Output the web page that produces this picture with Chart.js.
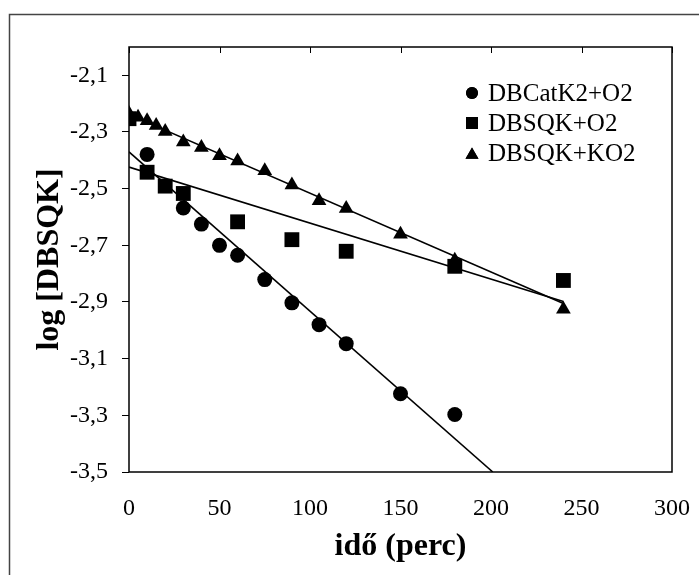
<!DOCTYPE html>
<html>
<head>
<meta charset="utf-8">
<title>log [DBSQK] – idő</title>
<script src="https://cdn.jsdelivr.net/npm/chart.js@4/dist/chart.umd.min.js"></script>
<style>
  html, body { margin: 0; padding: 0; background: #fff; }
  canvas { display: block; }
</style>
</head>
<body>
<canvas id="decay" width="699" height="575"></canvas>
<script>
// ── Measurements: time (perc) vs log [DBSQK] ──────────────
const catK2Time = [10, 30, 40, 50, 60, 75, 90, 105, 120, 150, 180];
const catK2Log = [-2.379, -2.568, -2.625, -2.700, -2.735, -2.821, -2.903, -2.980, -3.047, -3.224, -3.297];

const sqkO2Time = [0, 10, 20, 30, 60, 90, 120, 180, 240];
const sqkO2Log = [-2.253, -2.442, -2.491, -2.517, -2.617, -2.680, -2.721, -2.774, -2.824];

const sqkKO2Time = [0, 5, 10, 15, 20, 30, 40, 50, 60, 75, 90, 105, 120, 150, 180, 240];
const sqkKO2Log = [-2.235, -2.248, -2.260, -2.277, -2.298, -2.335, -2.355, -2.384, -2.402, -2.437, -2.487, -2.543, -2.570, -2.661, -2.753, -2.926];

// linear fits, start and end points
const catK2FitTime = [0, 201];
const catK2FitLog = [-2.370, -3.500];
const sqkO2FitTime = [0, 240];
const sqkO2FitLog = [-2.424, -2.898];
const sqkKO2FitTime = [0, 240];
const sqkKO2FitLog = [-2.238, -2.905];

const seriesLabels = ["DBCatK2+O2", "DBSQK+O2", "DBSQK+KO2"];
const xTicks = [0, 50, 100, 150, 200, 250, 300];
const yTicks = [-3.5, -3.3, -3.1, -2.9, -2.7, -2.5, -2.3, -2.1];

// ── Helpers ───────────────────────────────────────────────
const pts = (xs, ys) => xs.map((x, i) => ({ x, y: ys[i] }));
const huComma = (v) => Number(v).toFixed(1).replace(".", ",");
const SERIF = "'Liberation Serif', 'Times New Roman', serif";

const marker = (label, xs, ys, style, radius) => ({
  type: "scatter",
  label,
  data: pts(xs, ys),
  pointStyle: style,
  pointRadius: radius,
  pointBackgroundColor: "#000",
  pointBorderColor: "#000",
  pointBorderWidth: 0,
  order: 0,
});

const fitLine = (xs, ys) => ({
  type: "line",
  label: "",
  data: pts(xs, ys),
  borderColor: "#000",
  borderWidth: 1.6,
  pointRadius: 0,
  fill: false,
  order: 1,
});

// ── Frame, inward top ticks and the in-plot legend ────────
const decorations = {
  id: "decorations",
  afterDraw(chart) {
    const { ctx, chartArea: a, scales } = chart;
    ctx.save();

    // outer frame (only left and top edges fall inside the canvas)
    ctx.strokeStyle = "#444";
    ctx.lineWidth = 1.5;
    ctx.beginPath();
    ctx.moveTo(9.5, chart.height);
    ctx.lineTo(9.5, 14.5);
    ctx.lineTo(chart.width, 14.5);
    ctx.stroke();

    // plot border
    ctx.strokeStyle = "#000";
    ctx.lineWidth = 1.5;
    ctx.strokeRect(a.left, a.top, a.right - a.left, a.bottom - a.top);

    // x ticks hang down from the top border
    ctx.lineWidth = 1;
    ctx.beginPath();
    scales.x.ticks.forEach((t) => {
      const px = Math.round(scales.x.getPixelForValue(t.value)) + 0.5;
      ctx.moveTo(px, a.top);
      ctx.lineTo(px, a.top + 6);
    });
    ctx.stroke();

    // legend
    const markers = chart.data.datasets.filter((d) => d.type === "scatter");
    const mx = a.right - 200;
    ctx.font = `25px ${SERIF}`;
    ctx.fillStyle = "#000";
    ctx.textBaseline = "middle";
    ctx.textAlign = "left";
    markers.forEach((d, i) => {
      const my = a.top + 46 + i * 30;
      const r = d.pointStyle === "rect" ? 8.5 : d.pointStyle === "triangle" ? 7.5 : 6;
      Chart.helpers.drawPoint(ctx, { pointStyle: d.pointStyle, radius: r, borderWidth: 0 }, mx, d.pointStyle === "triangle" ? my + 2 : my);
      ctx.fillStyle = "#000";
      ctx.fill();
      ctx.fillText(d.label, mx + 16, my + 1);
    });
    ctx.restore();
  },
};

// ── Chart ─────────────────────────────────────────────────
new Chart(document.getElementById("decay"), {
  data: {
    datasets: [
      marker(seriesLabels[0], catK2Time, catK2Log, "circle", 7.5),
      marker(seriesLabels[1], sqkO2Time, sqkO2Log, "rect", 10.5),
      marker(seriesLabels[2], sqkKO2Time, sqkKO2Log, "triangle", 8.5),
      fitLine(catK2FitTime, catK2FitLog),
      fitLine(sqkO2FitTime, sqkO2FitLog),
      fitLine(sqkKO2FitTime, sqkKO2FitLog),
    ],
  },
  options: {
    responsive: false,
    animation: false,
    layout: { padding: { left: 0, top: 47, right: 27, bottom: 0 } },
    plugins: {
      legend: { display: false },
      tooltip: { enabled: false },
    },
    scales: {
      x: {
        type: "linear",
        min: 0,
        max: 300,
        afterBuildTicks: (s) => { s.ticks = xTicks.map((v) => ({ value: v })); },
        // fixed height; edge labels must not shrink the plot width
        afterFit: (s) => {
          s.height = 103;
          s.paddingLeft = 0;
          s.paddingRight = 0;
        },
        border: { display: false },
        grid: { display: false, drawTicks: false, tickLength: 0 },
        ticks: {
          color: "#000",
          font: { family: SERIF, size: 24 },
          padding: 22,
          maxRotation: 0,
        },
        title: {
          display: true,
          text: "idő (perc)",
          color: "#000",
          font: { family: SERIF, size: 32, weight: "bold" },
          padding: { top: 0, bottom: 9 },
        },
      },
      y: {
        type: "linear",
        min: -3.5,
        max: -2.0,
        afterBuildTicks: (s) => { s.ticks = yTicks.map((v) => ({ value: v })); },
        afterFit: (s) => { s.width = 129; },
        border: { display: false },
        grid: { drawOnChartArea: false, drawTicks: true, tickLength: 7, color: "#000", lineWidth: 1 },
        ticks: {
          color: "#000",
          font: { family: SERIF, size: 24 },
          padding: 14,
          callback: (v) => huComma(v),
        },
        title: {
          display: true,
          text: "log [DBSQK]",
          color: "#000",
          font: { family: SERIF, size: 32, weight: "bold" },
          padding: { top: 31, bottom: 0 },
        },
      },
    },
  },
  plugins: [decorations],
});
</script>
</body>
</html>
